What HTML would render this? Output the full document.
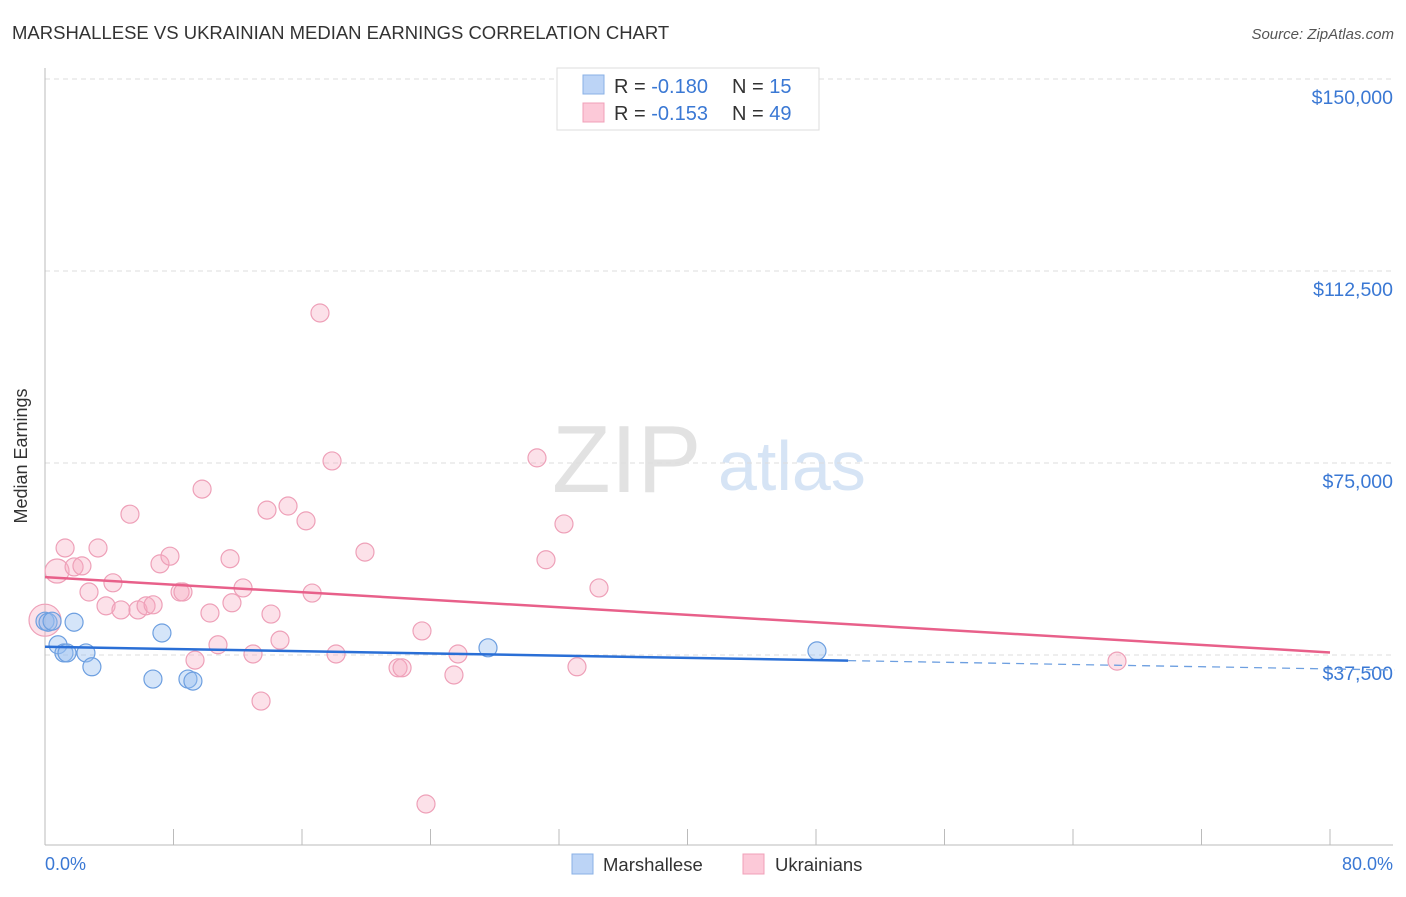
<!DOCTYPE html>
<html><head><meta charset="utf-8"><style>
body{margin:0;background:#fff;font-family:"Liberation Sans",sans-serif}
svg text{font-family:"Liberation Sans",sans-serif}
</style></head><body>
<svg width="1406" height="892">
<text x="12" y="39" font-size="18.5" fill="#333">MARSHALLESE VS UKRAINIAN MEDIAN EARNINGS CORRELATION CHART</text>
<text x="1394" y="39" font-size="15" fill="#555" font-style="italic" text-anchor="end">Source: ZipAtlas.com</text>
<g>
<text x="552" y="492" font-size="96" fill="#e2e2e2" font-family="Liberation Serif,serif">ZIP</text>
<text x="718" y="490" font-size="70" fill="#d6e4f5">atlas</text>
</g>
<g id="grid"></g>
<line x1="45" y1="68" x2="45" y2="845" stroke="#bbb"/>
<line x1="45" y1="845" x2="1393" y2="845" stroke="#bbb"/>
<g id="xticks"></g>
<text x="27" y="456" font-size="18" fill="#333" text-anchor="middle" transform="rotate(-90 27 456)">Median Earnings</text>
<text x="45" y="870" font-size="18" fill="#3a78d4">0.0%</text>
<text x="1393" y="870" font-size="18" fill="#3a78d4" text-anchor="end">80.0%</text>
<g id="pts"></g>
<g id="trend"></g>
<g>
<rect x="557" y="68" width="262" height="62" fill="#fff" stroke="#ddd"/>
<rect x="583" y="75" width="21" height="19" fill="#bcd4f6" stroke="#8ab0e6"/>
<rect x="583" y="103" width="21" height="19" fill="#fcc9d8" stroke="#f0a0b8"/>
<text x="614" y="93" font-size="20" fill="#333">R = <tspan fill="#3a78d4">-0.180</tspan></text>
<text x="732" y="93" font-size="20" fill="#333">N = <tspan fill="#3a78d4"> 15</tspan></text>
<text x="614" y="120" font-size="20" fill="#333">R = <tspan fill="#3a78d4">-0.153</tspan></text>
<text x="732" y="120" font-size="20" fill="#333">N = <tspan fill="#3a78d4">49</tspan></text>
</g>
<g>
<rect x="572" y="854" width="21" height="20" fill="#bcd4f6" stroke="#8ab0e6"/>
<text x="603" y="871" font-size="18.5" fill="#333">Marshallese</text>
<rect x="743" y="854" width="21" height="20" fill="#fcc9d8" stroke="#f0a0b8"/>
<text x="775" y="871" font-size="18.5" fill="#333">Ukrainians</text>
</g>
</svg>
<script>
const yTickValues=[37.5,75,112.5,150];
const yTickLabels=["$37,500","$75,000","$112,500","$150,000"];
const xTickValues=[0,8,16,24,32,40,48,56,64,72,80];
const pinkX=[0,0.75,1.25,1.81,2.3,2.74,3.3,3.8,4.23,4.73,5.29,5.79,6.29,6.73,7.16,7.78,8.41,8.59,9.34,9.78,10.27,10.77,11.52,11.64,12.33,12.95,13.45,13.82,14.07,14.63,15.13,16.25,16.63,17.12,17.87,18.12,19.92,21.98,22.23,23.47,23.72,25.46,25.71,30.63,31.19,32.31,33.12,34.49,66.74];
const pinkY=[44.3,53.9,58.4,54.7,54.9,49.8,58.4,47.1,51.6,46.3,65.0,46.3,47.1,47.3,55.3,56.8,49.8,49.8,36.5,69.9,45.7,39.5,56.3,47.7,50.6,37.7,28.5,65.8,45.5,40.4,66.6,63.7,49.6,104.3,75.4,37.7,57.6,35.0,35.0,42.2,8.4,33.6,37.7,76.0,56.1,63.1,35.2,50.6,36.3];
const pinkR=[16,12,9,9,9,9,9,9,9,9,9,9,9,9,9,9,9,9,9,9,9,9,9,9,9,9,9,9,9,9,9,9,9,9,9,9,9,9,9,9,9,9,9,9,9,9,9,9,9];
const blueX=[0,0.19,0.44,0.81,1.18,1.37,1.81,2.55,2.92,6.72,7.28,8.9,9.21,27.58,48.06];
const blueY=[44.1,43.9,44.1,39.5,37.9,37.9,43.9,37.9,35.2,32.8,41.8,32.8,32.4,38.9,38.3];
const pinkTrend=[52.7,38.0];
const blueTrend=[39.1,36.4,50,84];
const NS="http://www.w3.org/2000/svg";
const sx=p=>45+p*16.0625, sy=v=>655-(v-37.5)*5.12;
function mk(t,a,parent){const e=document.createElementNS(NS,t);for(const k in a)e.setAttribute(k,a[k]);document.getElementById(parent).appendChild(e);return e;}
yTickValues.forEach((v,i)=>{
 const l=mk('line',{x1:45,x2:1393,y1:sy(v),y2:sy(v),stroke:'#ddd','stroke-dasharray':'5,4'},'grid');
 
 
 const t=mk('text',{x:1393,y:sy(v)+25,'font-size':19.5,fill:'#3a78d4','text-anchor':'end'},'grid');
 t.textContent=yTickLabels[i];
 
 
});
xTickValues.forEach(p=>{
 const l=mk('line',{x1:sx(p),x2:sx(p),y1:829,y2:845,stroke:'#bbb'},'xticks');
 
 
});
pinkX.forEach((p,i)=>{
 const c=mk('circle',{cx:sx(p),cy:sy(pinkY[i]),r:pinkR[i],fill:'rgba(246,168,192,0.35)',stroke:'#eea0b8','stroke-width':1.2},'pts');
 
 
});
blueX.forEach((p,i)=>{
 const c=mk('circle',{cx:sx(p),cy:sy(blueY[i]),r:9,fill:'rgba(150,190,240,0.4)',stroke:'#6d9fe0','stroke-width':1.2},'pts');
 
 
});
const pl=mk('line',{x1:sx(0),y1:sy(pinkTrend[0]),x2:sx(80),y2:sy(pinkTrend[1]),stroke:'#e8608a','stroke-width':2.5},'trend');


const bs=(blueTrend[1]-blueTrend[0])/50, bv=p=>blueTrend[0]+bs*p;
const bl=mk('line',{x1:sx(0),y1:sy(bv(0)),x2:sx(blueTrend[2]),y2:sy(bv(blueTrend[2])),stroke:'#2a6fd6','stroke-width':2.5},'trend');


const bd=mk('line',{x1:sx(blueTrend[2]),y1:sy(bv(blueTrend[2])),x2:sx(blueTrend[3]),y2:sy(bv(blueTrend[3])),stroke:'#6d9fe0','stroke-width':1.3,'stroke-dasharray':'8,6'},'trend');


</script>
</body></html>
